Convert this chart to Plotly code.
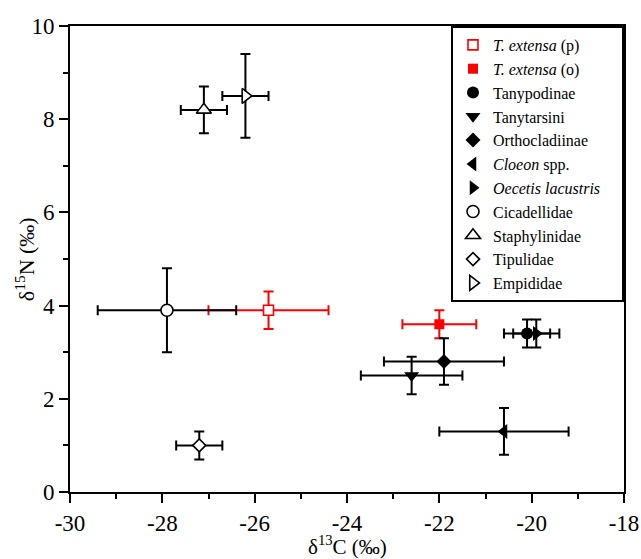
import plotly.graph_objects as go

names = ["<i>T. extensa</i> (p)", "<i>T. extensa</i> (o)", "Tanypodinae", "Tanytarsini",
         "Orthocladiinae", "<i>Cloeon</i> spp.", "<i>Oecetis lacustris</i>", "Cicadellidae",
         "Staphylinidae", "Tipulidae", "Empididae"]
d13C = [-25.7, -22.0, -20.1, -22.6, -21.9, -20.6, -19.9, -27.9, -27.1, -27.2, -26.2]
d13C_sd = [1.3, 0.8, 0.5, 1.1, 1.3, 1.4, 0.5, 1.5, 0.5, 0.5, 0.5]
d15N = [3.9, 3.6, 3.4, 2.5, 2.8, 1.3, 3.4, 3.9, 8.2, 1.0, 8.5]
d15N_sd = [0.4, 0.3, 0.3, 0.4, 0.5, 0.5, 0.3, 0.9, 0.5, 0.3, 0.9]

x_ticks = [-30, -28, -26, -24, -22, -20, -18]
x_ticktext = ["-30", "-28", "-26", "-24", "-22", "-20", "-18"]
y_ticks = [0, 2, 4, 6, 8, 10]

symbols = ["square", "square", "circle", "triangle-down", "diamond", "triangle-left",
           "triangle-right", "circle", "triangle-up", "diamond", "triangle-right"]
colors = ["red", "red"] + ["black"] * 9
fills = ["white", "red", "black", "black", "black", "black", "black", "white", "white", "white", "white"]
sizes = [10, 10, 12, 13, 11.5, 13, 13, 12, 13, 10, 13]

# pad the longest legend label so the legend box is as wide as in the reference
longest = max(range(len(names)), key=lambda k: len(names[k]) - 7 * names[k].count("<i>"))
labels = [n + ("\u00a0" * 4 if k == longest else "") for k, n in enumerate(names)]

fig = go.Figure()
for i in range(len(names)):
    open_m = fills[i] == "white"
    fig.add_trace(go.Scatter(
        x=[d13C[i]], y=[d15N[i]], mode="markers", name=labels[i],
        marker=dict(symbol=symbols[i], size=sizes[i], color=fills[i],
                    line=dict(color=colors[i], width=1.6 if open_m else 0)),
        error_x=dict(type="data", array=[d13C_sd[i]], color=colors[i], thickness=2, width=5),
        error_y=dict(type="data", array=[d15N_sd[i]], color=colors[i], thickness=2, width=5),
    ))

axis_common = dict(showline=True, linecolor="black", linewidth=2, mirror=True,
                   ticks="outside", ticklen=9, tickwidth=2, tickcolor="black",
                   showgrid=False, zeroline=False, automargin=False,
                   ticklabeloverflow="allow",
                   tickfont=dict(family="Liberation Serif", size=23, color="black"),
                   minor=dict(ticks="outside", ticklen=5, tickwidth=2, tickcolor="black", dtick=1))

fig.update_xaxes(range=[-30, -18], tickmode="array", tickvals=x_ticks, ticktext=x_ticktext,
                 ticklabelstandoff=0, **axis_common)
fig.update_yaxes(range=[0, 10], tickmode="array", tickvals=y_ticks, **axis_common)

fig.add_annotation(text="δ<sup>13</sup>C (‰)", xref="paper", yref="paper",
                   x=0.5, y=-0.115, xanchor="center", yanchor="middle",
                   showarrow=False,
                   font=dict(family="Liberation Serif", size=21, color="black"))
fig.add_annotation(text="δ<sup>15</sup>N (‰)", xref="paper", yref="paper",
                   x=-0.081, y=0.5, xanchor="center", yanchor="middle", textangle=-90,
                   showarrow=False,
                   font=dict(family="Liberation Serif", size=22, color="black"))

fig.update_layout(
    width=641, height=559,
    margin=dict(l=70, r=17, t=26, b=67),
    plot_bgcolor="white", paper_bgcolor="white",
    showlegend=True,
    legend=dict(x=1, y=1, xanchor="right", yanchor="top",
                bgcolor="white", bordercolor="black", borderwidth=2,
                font=dict(family="Liberation Serif", size=16, color="black"),
                itemwidth=30, tracegroupgap=0),
)

fig.write_html("out.html")
